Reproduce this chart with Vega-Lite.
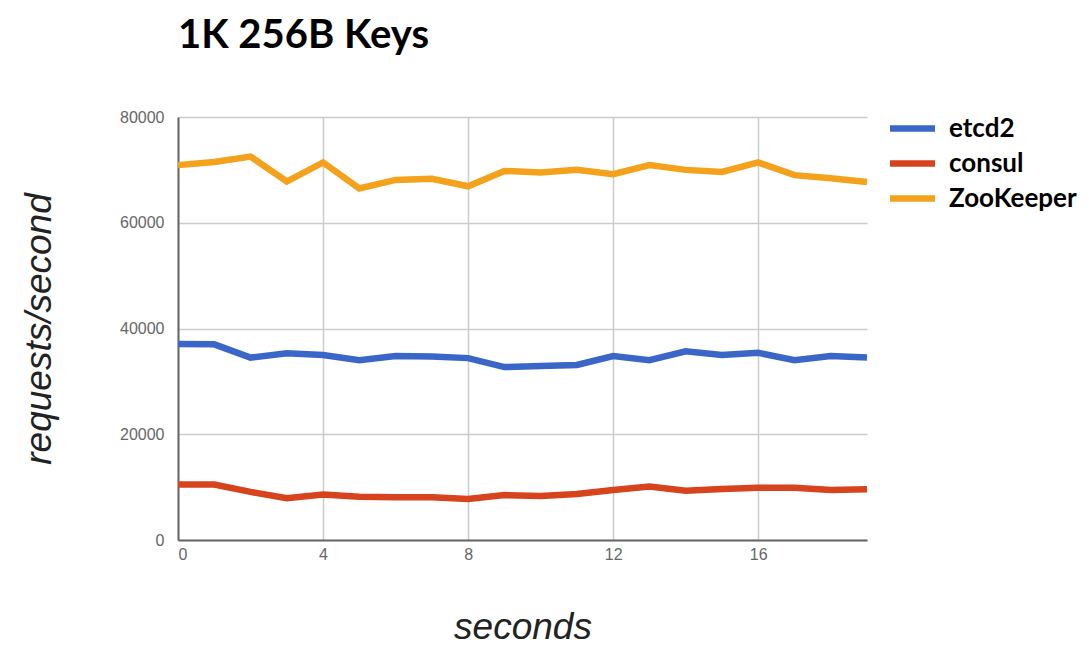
{
  "$schema": "https://vega.github.io/schema/vega-lite/v6.json",
  "autosize": "none",
  "width": 689,
  "height": 423,
  "padding": {"left": 178, "top": 117, "right": 222, "bottom": 105},
  "background": "white",
  "title": {"text": "1K 256B Keys", "anchor": "start", "frame": "group", "font": "Lato", "fontSize": 40, "fontWeight": "bold", "color": "#000000", "offset": 53},
  "data": {"values": [
    {"t": 0, "s": "etcd2", "v": 37060}, {"t": 1, "s": "etcd2", "v": 37000}, {"t": 2, "s": "etcd2", "v": 34500}, {"t": 3, "s": "etcd2", "v": 35300}, {"t": 4, "s": "etcd2", "v": 35000},
    {"t": 5, "s": "etcd2", "v": 34000}, {"t": 6, "s": "etcd2", "v": 34800}, {"t": 7, "s": "etcd2", "v": 34700}, {"t": 8, "s": "etcd2", "v": 34400}, {"t": 9, "s": "etcd2", "v": 32700},
    {"t": 10, "s": "etcd2", "v": 32900}, {"t": 11, "s": "etcd2", "v": 33100}, {"t": 12, "s": "etcd2", "v": 34800}, {"t": 13, "s": "etcd2", "v": 34000}, {"t": 14, "s": "etcd2", "v": 35700},
    {"t": 15, "s": "etcd2", "v": 35000}, {"t": 16, "s": "etcd2", "v": 35400}, {"t": 17, "s": "etcd2", "v": 34000}, {"t": 18, "s": "etcd2", "v": 34800}, {"t": 19, "s": "etcd2", "v": 34500},
    {"t": 0, "s": "consul", "v": 10500}, {"t": 1, "s": "consul", "v": 10500}, {"t": 2, "s": "consul", "v": 9100}, {"t": 3, "s": "consul", "v": 7900}, {"t": 4, "s": "consul", "v": 8600},
    {"t": 5, "s": "consul", "v": 8200}, {"t": 6, "s": "consul", "v": 8100}, {"t": 7, "s": "consul", "v": 8100}, {"t": 8, "s": "consul", "v": 7750}, {"t": 9, "s": "consul", "v": 8500},
    {"t": 10, "s": "consul", "v": 8300}, {"t": 11, "s": "consul", "v": 8700}, {"t": 12, "s": "consul", "v": 9450}, {"t": 13, "s": "consul", "v": 10100}, {"t": 14, "s": "consul", "v": 9300},
    {"t": 15, "s": "consul", "v": 9650}, {"t": 16, "s": "consul", "v": 9900}, {"t": 17, "s": "consul", "v": 9900}, {"t": 18, "s": "consul", "v": 9450}, {"t": 19, "s": "consul", "v": 9600},
    {"t": 0, "s": "ZooKeeper", "v": 70900}, {"t": 1, "s": "ZooKeeper", "v": 71500}, {"t": 2, "s": "ZooKeeper", "v": 72500}, {"t": 3, "s": "ZooKeeper", "v": 67800}, {"t": 4, "s": "ZooKeeper", "v": 71400},
    {"t": 5, "s": "ZooKeeper", "v": 66500}, {"t": 6, "s": "ZooKeeper", "v": 68100}, {"t": 7, "s": "ZooKeeper", "v": 68300}, {"t": 8, "s": "ZooKeeper", "v": 66900}, {"t": 9, "s": "ZooKeeper", "v": 69800},
    {"t": 10, "s": "ZooKeeper", "v": 69500}, {"t": 11, "s": "ZooKeeper", "v": 70000}, {"t": 12, "s": "ZooKeeper", "v": 69200}, {"t": 13, "s": "ZooKeeper", "v": 70900}, {"t": 14, "s": "ZooKeeper", "v": 70000},
    {"t": 15, "s": "ZooKeeper", "v": 69600}, {"t": 16, "s": "ZooKeeper", "v": 71400}, {"t": 17, "s": "ZooKeeper", "v": 69000}, {"t": 18, "s": "ZooKeeper", "v": 68400}, {"t": 19, "s": "ZooKeeper", "v": 67700}
  ]},
  "mark": {"type": "line", "strokeWidth": 6.5, "strokeJoin": "miter", "strokeCap": "butt"},
  "encoding": {
    "x": {"field": "t", "type": "quantitative",
      "scale": {"domain": [0, 19], "nice": false, "zero": false},
      "axis": {"title": "seconds", "values": [0, 4, 8, 12, 16], "grid": true, "gridColor": "#cccccc", "gridWidth": 1.5,
        "domainColor": "#666666", "domainWidth": 2, "ticks": false, "labelFont": "Liberation Sans", "labelFontSize": 16, "labelColor": "#666666", "labelPadding": 6,
        "titleFont": "Liberation Sans", "titleFontSize": 37, "titleFontStyle": "italic", "titleFontWeight": "normal", "titleColor": "#222222", "titlePadding": 47}},
    "y": {"field": "v", "type": "quantitative",
      "scale": {"domain": [0, 80000], "nice": false},
      "axis": {"title": "requests/second", "values": [0, 20000, 40000, 60000, 80000], "format": "d", "grid": true, "gridColor": "#cccccc", "gridWidth": 1.5,
        "domainColor": "#666666", "domainWidth": 2, "ticks": false, "labelFont": "Liberation Sans", "labelFontSize": 16, "labelColor": "#666666", "labelPadding": 14,
        "titleFont": "Liberation Sans", "titleFontSize": 37, "titleFontStyle": "italic", "titleFontWeight": "normal", "titleColor": "#222222", "titlePadding": 61}},
    "color": {"field": "s", "type": "nominal",
      "scale": {"domain": ["etcd2", "consul", "ZooKeeper"], "range": ["#3a66c8", "#d6431c", "#f4a11c"]},
      "sort": ["etcd2", "consul", "ZooKeeper"],
      "legend": {"title": null, "orient": "none", "legendX": 720, "legendY": -3, "symbolType": "M-2,0H2", "symbolSize": 506, "symbolStrokeWidth": 6.5,
        "labelFont": "Lato", "labelFontSize": 26, "labelFontWeight": "bold", "labelColor": "#000000", "labelOffset": 22, "rowPadding": 7}}
  },
  "config": {"view": {"stroke": null}}
}
